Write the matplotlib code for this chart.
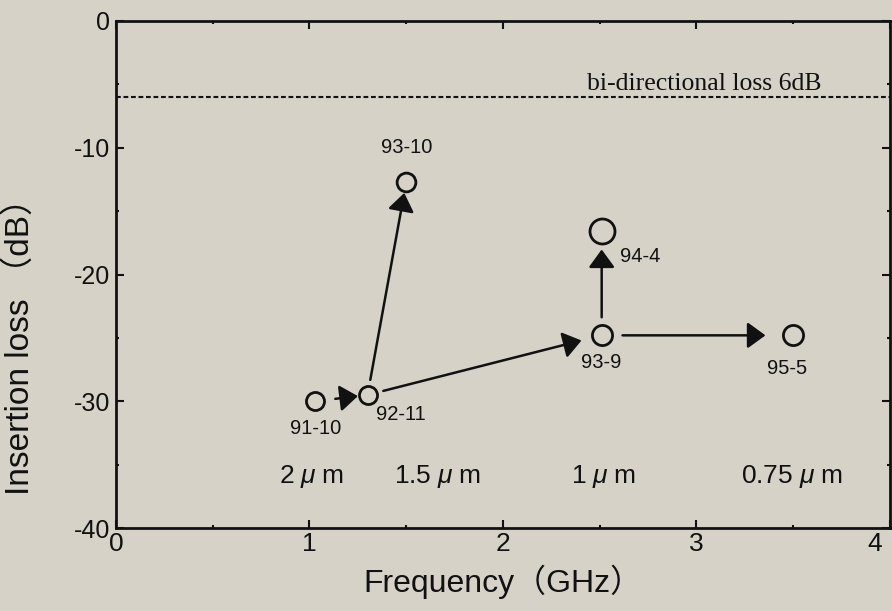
import matplotlib
matplotlib.use("Agg")
import matplotlib.pyplot as plt
import matplotlib.transforms as mtrans
from matplotlib.ticker import MultipleLocator

# --- data -------------------------------------------------------------
sample_ids = ["91-10", "92-11", "93-10", "93-9", "94-4", "95-5"]
freq_ghz = [1.03, 1.30, 1.50, 2.51, 2.51, 3.50]
loss_db = [-30.0, -29.5, -12.7, -24.8, -16.6, -24.8]

# device evolution: (from, to)
transitions = [("91-10", "92-11"), ("92-11", "93-10"), ("92-11", "93-9"),
               ("93-9", "94-4"), ("93-9", "95-5")]

gate_lengths = ["2", "1.5", "1", "0.75"]
bidirectional_loss_db = -6
x_ticks = [0, 1, 2, 3, 4]
y_ticks = [0, -10, -20, -30, -40]

# --- styling / layout ---------------------------------------------------
bg = "#d6d2c8"
ink = "#111111"
marker_sizes = {"91-10": 13, "92-11": 13, "93-10": 13.5, "93-9": 14.5,
                "94-4": 18, "95-5": 14.5}
# label offsets in pixels relative to the marker centre
label_offsets = {"91-10": (0, -27), "92-11": (33, -20), "93-10": (0, 34),
                 "93-9": (0, -27), "94-4": (39, -25), "95-5": (-6, -33)}
# arrow shrink (points) at start / end
arrow_shrink = [(14.5, 7), (11, 8), (11.7, 15), (13, 13), (15, 20)]
gate_label_x = [1.01, 1.66, 2.52, 3.49]
gate_label_y = -35.9

plt.rcParams["mathtext.fontset"] = "custom"
plt.rcParams["mathtext.rm"] = "Liberation Sans"
plt.rcParams["mathtext.it"] = "Liberation Sans:italic"
sans = ["Liberation Sans", "Noto Sans CJK JP", "DejaVu Sans"]

fig = plt.figure(figsize=(8.92, 6.11), dpi=100, facecolor=bg)
ax = fig.add_axes([116 / 892, 1 - 528 / 611, (890 - 116) / 892, (528 - 21) / 611])
ax.set_facecolor(bg)
ax.set_xlim(0, 4)
ax.set_ylim(-40, 0)

for s in ax.spines.values():
    s.set_linewidth(2.0)
    s.set_color(ink)

ax.set_xticks(x_ticks)
ax.set_yticks(y_ticks)
ax.set_xticklabels([str(v) for v in x_ticks])
ax.set_yticklabels([str(v) for v in y_ticks])
ax.xaxis.set_minor_locator(MultipleLocator(0.5))
ax.yaxis.set_minor_locator(MultipleLocator(5))
ax.tick_params(which="both", direction="in", top=True, right=True,
               color=ink, width=1.5, labelcolor=ink)
ax.tick_params(which="major", length=6)
ax.tick_params(which="minor", length=2.5)
ax.tick_params(axis="x", which="major", pad=3)
ax.tick_params(axis="y", which="major", pad=4)
for lab in ax.get_xticklabels():
    lab.set_fontfamily(sans)
    lab.set_fontsize(19)
for lab in ax.get_yticklabels():
    lab.set_fontfamily(sans)
    lab.set_fontsize(18)

# keep the last frequency label inside the figure
last = ax.get_xticklabels()[-1]
last.set_transform(last.get_transform() +
                   mtrans.ScaledTranslation(-15 / 100, 0, fig.dpi_scale_trans))

ax.set_xlabel("Frequency（GHz）", fontsize=23, family=sans, color=ink, labelpad=6)
ax.set_ylabel("Insertion loss （dB）", fontsize=24, family=sans, color=ink)
ax.yaxis.label.set_va("center")
ax.yaxis.set_label_coords(-0.124, 0.375)

# bi-directional loss reference
ax.axhline(bidirectional_loss_db, color=ink, lw=1.5, ls=(0, (2.3, 1.3)))
ax.text(3.04, bidirectional_loss_db + 0.55, "bi-directional loss 6dB",
        family="Liberation Serif", fontsize=18.5, color=ink,
        ha="center", va="baseline")

# markers
pos = {sid: (f, l) for sid, f, l in zip(sample_ids, freq_ghz, loss_db)}
for sid in sample_ids:
    x, y = pos[sid]
    ax.plot(x, y, "o", ms=marker_sizes[sid], mfc="none", mec=ink, mew=2.0,
            zorder=3)
    dx, dy = label_offsets[sid]
    ax.annotate(sid, (x, y), xytext=(dx, dy), textcoords="offset pixels",
                ha="center", va="center", fontsize=14.5, family=sans, color=ink)

# arrows
for (a, b), (sa, sb) in zip(transitions, arrow_shrink):
    ax.annotate("", xy=pos[b], xytext=pos[a],
                arrowprops=dict(arrowstyle="-|>,head_length=0.55,head_width=0.4",
                                mutation_scale=20, lw=1.8, color=ink,
                                shrinkA=sa, shrinkB=sb))

# gate-length annotations
for g, gx in zip(gate_lengths, gate_label_x):
    ax.text(gx, gate_label_y, g + r" $\mu\;$m", fontsize=19, family=sans,
            color=ink, ha="center", va="center")

fig.savefig("out.png", dpi=100, facecolor=bg)
